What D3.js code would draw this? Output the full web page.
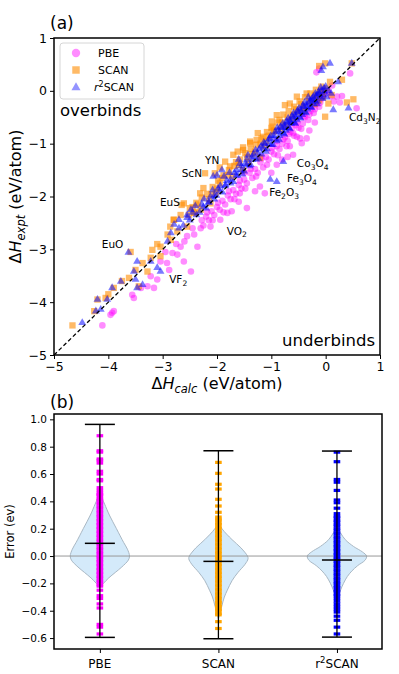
<!DOCTYPE html>
<html>
<head>
<meta charset="utf-8">
<script src="https://cdn.jsdelivr.net/npm/d3@7"></script>
<style>
body { margin: 0; background: #fff; }
svg { display: block; }
text { font-family: "DejaVu Sans", sans-serif; fill: #000; }
</style>
</head>
<body>
<svg id="fig" width="399" height="674"></svg>
<script>

// ---- panel (a): formation enthalpy, [calc, expt] in eV/atom ----
var pbePts = [
	[-0.17,0.35],[-0.12,0.42],[0.45,0.33],[0.26,-0.22],[0.57,-0.33],[0.21,-0.11],[0.12,0.10],
	[-0.05,-0.10],[-0.10,-0.22],[-0.15,-0.18],[-0.20,-0.35],[-0.25,-0.30],[-0.30,-0.45],[-0.32,-0.55],
	[-0.38,-0.50],[-0.42,-0.62],[-0.47,-0.90],[-0.35,-0.90],[-0.66,-1.05],[-0.50,-0.70],[-0.55,-0.65],
	[-0.60,-0.80],[-0.65,-0.78],[-0.70,-0.95],[-0.75,-0.88],[-0.80,-1.00],[-0.85,-1.10],[-0.90,-1.05],
	[-0.95,-1.20],[-1.00,-1.15],[-1.05,-1.30],[-1.10,-1.25],[-1.15,-1.45],[-1.20,-1.35],[-1.25,-1.55],
	[-1.30,-1.48],[-1.35,-1.65],[-1.40,-1.55],[-1.45,-1.75],[-1.50,-1.68],[-1.55,-1.85],[-1.60,-1.78],
	[-1.65,-1.95],[-1.70,-1.88],[-1.75,-2.05],[-1.80,-1.98],[-1.85,-2.15],[-1.90,-2.08],[-1.95,-2.25],
	[-2.00,-2.20],[-2.05,-2.35],[-2.10,-2.28],[-2.15,-2.45],[-2.20,-2.38],[-2.25,-2.55],
	[-0.53,-0.87],[-0.44,-0.99],[-0.60,-1.21],[-1.21,-1.81],[-1.45,-2.22],[-1.58,-1.94],[-1.12,-1.94],
	[-1.73,-2.28],[-1.94,-2.44],[-1.81,-2.31],[-2.12,-2.57],[-2.30,-2.60],[-2.42,-2.72],[-2.67,-2.95],
	[-2.82,-3.07],[-2.73,-3.10],[-2.61,-3.23],[-2.48,-3.42],[-2.36,-2.95],[-3.04,-3.23],[-2.92,-3.26],
	[-2.88,-3.39],[-3.22,-3.51],[-3.10,-3.57],[-3.16,-3.73],[-3.28,-3.70],[-3.40,-3.73],[-3.53,-3.92],
	[-3.56,-3.86],[-3.90,-4.17],[-3.96,-4.24],[-3.93,-4.20],[-4.11,-4.44],[-2.55,-2.75],[-2.60,-2.85],
	[-2.45,-2.60],[-2.75,-2.90],[-2.95,-3.05],[-1.00,-1.55],[-0.80,-1.30],[-0.90,-1.40],[-0.30,-0.75],
	[-0.20,-0.60],[-0.70,-1.25],[-1.30,-1.90],[-1.60,-2.10],
	[-0.02,-0.05],[-0.08,-0.15],[-0.12,-0.30],[-0.18,-0.25],[-0.22,-0.42],[-0.28,-0.38],[-0.40,-0.48],
	[-0.45,-0.72],[-0.52,-0.60],[-0.58,-0.85],[-0.68,-0.82],[-0.72,-1.05],[-0.78,-0.92],[-0.88,-1.22],
	[-0.98,-1.08],[-1.08,-1.40],[-1.18,-1.28],[-1.28,-1.62],[-1.38,-1.48],[-1.48,-1.85],[-1.58,-1.70],
	[-1.68,-2.05],[-1.78,-1.90],[-1.88,-2.30],[-1.98,-2.12],[-2.08,-2.45],[-2.18,-2.30],[-2.28,-2.45],
	[-0.62,-0.70],[-0.90,-0.95],[-1.20,-1.25],[-1.50,-1.55],[0.05,0.00],[0.10,-0.10],[-0.05,0.00],
	[0.15,-0.20],[0.30,-0.10]
];

var scanPts = [
	[-0.01,0.52],[-0.12,0.47],[0.48,0.52],[0.30,0.21],[0.08,0.17],[0.51,-0.16],[0.39,-0.22],
	[-0.01,-0.49],[0.11,-0.08],[0.05,-0.24],
	[-0.05,0.00],[-0.10,-0.02],[-0.20,-0.08],[-0.35,-0.05],[-0.53,-0.11],[-0.66,-0.24],[-0.75,-0.27],
	[-0.90,-0.46],[-0.99,-0.58],[-1.15,-0.87],[-0.96,-0.77],[-1.27,-0.93],[-1.39,-0.99],[-1.52,-1.12],
	[-1.70,-1.21],[-1.52,-1.07],[-1.39,-0.96],[-1.76,-1.43],[-1.52,-1.50],[-1.21,-1.27],[-1.85,-1.34],
	[-2.04,-1.56],[-2.22,-1.56],[-1.91,-1.65],[-2.25,-1.84],[-2.31,-1.94],[-2.65,-2.16],[-2.50,-2.22],
	[-2.80,-2.44],[-2.86,-2.57],
	[-0.30,-0.20],[-0.40,-0.30],[-0.45,-0.25],[-0.60,-0.45],[-0.70,-0.50],[-0.80,-0.60],[-0.85,-0.55],
	[-1.05,-0.85],[-1.10,-0.95],[-1.20,-1.00],[-1.30,-1.15],[-1.45,-1.25],[-1.60,-1.40],[-1.65,-1.35],
	[-1.80,-1.60],[-1.95,-1.75],[-2.00,-1.85],[-2.10,-1.95],[-2.15,-2.05],[-2.35,-2.15],[-2.40,-2.30],
	[-2.45,-2.20],[-0.15,-0.10],[-0.25,-0.15],[-0.50,-0.40],[-0.55,-0.35],[-0.95,-0.75],[-1.35,-1.20],
	[-1.00,-0.70],[-0.20,-0.25],[-0.05,-0.12],
	[-0.08,0.08],[-0.18,0.02],[-0.28,-0.05],[-0.38,-0.12],[-0.48,-0.20],[-0.58,-0.30],[-0.68,-0.38],
	[-0.78,-0.45],[-0.88,-0.60],[-0.98,-0.68],[-1.08,-0.78],[-1.18,-0.90],[-1.28,-1.02],[-1.38,-1.10],
	[-1.48,-1.18],[-1.58,-1.30],[-1.68,-1.42],[-1.78,-1.50],[-1.88,-1.60],[-1.98,-1.70],[-2.08,-1.82],
	[-2.18,-1.95],[-2.28,-2.02],[-2.38,-2.12],[-2.52,-2.35],[-0.62,-0.55],[-0.72,-0.65],[-0.82,-0.72],
	[-1.12,-1.05],[-1.42,-1.35],[-1.72,-1.62],[-2.02,-1.92],[-0.40,-0.38],[-0.12,-0.18],[0.02,0.05],
	[-1.25,-0.80],[-1.62,-1.15],[-1.95,-1.45],
	[-4.66,-4.44],[-4.26,-4.17],[-4.20,-3.95],[-4.05,-3.92],[-3.90,-3.73],[-3.62,-3.54],[-3.44,-3.70],
	[-3.50,-3.39],[-3.37,-3.26],[-3.22,-3.16],[-3.19,-3.01],[-3.04,-2.95],[-3.59,-3.05],[-2.91,-2.72],
	[-2.79,-2.44],[-2.67,-2.35],[-2.61,-2.13],[-2.42,-2.31],[-2.30,-2.25],[-2.12,-2.13],[-2.55,-2.57],
	[-2.73,-2.66],[-2.85,-2.82],[-3.04,-3.13],[-3.28,-3.42],[-4.00,-3.85],[-3.75,-3.60],[-3.10,-2.90]
];

var r2scanPts = [
	[0.08,0.52],[0.48,0.52],[0.23,0.17],[0.42,-0.33],[0.14,-0.36],[-0.05,0.45],[-0.08,0.38],
	[-0.02,-0.02],[-0.05,-0.08],[-0.08,0.00],[-0.10,-0.12],[-0.12,-0.05],[-0.15,-0.20],[-0.18,-0.10],
	[-0.20,-0.18],[-0.22,-0.25],[-0.25,-0.15],[-0.28,-0.30],[-0.30,-0.22],[-0.33,-0.35],[-0.35,-0.25],
	[-0.38,-0.40],[-0.40,-0.30],[-0.43,-0.45],[-0.45,-0.35],[-0.48,-0.50],[-0.50,-0.40],[-0.53,-0.55],
	[-0.55,-0.45],[-0.58,-0.60],[-0.60,-0.50],[-0.63,-0.62],[-0.65,-0.55],[-0.68,-0.70],[-0.70,-0.60],
	[-0.73,-0.75],[-0.75,-0.65],[-0.78,-0.80],[-0.80,-0.70],[-0.85,-0.85],[-0.88,-0.75],[-0.90,-0.95],
	[-0.95,-0.85],[-1.00,-1.02],[-1.03,-0.90],[-1.08,-1.10],[-1.12,-1.00],[-1.18,-1.20],[-1.22,-1.10],
	[-1.28,-1.30],[-1.33,-1.20],[-1.40,-1.42],[-1.45,-1.30],[-1.50,-1.52],[-1.55,-1.42],[-1.62,-1.60],
	[-1.68,-1.55],[-1.75,-1.75],[-1.82,-1.70],[-1.90,-1.92],[-1.98,-1.85],[-2.05,-2.05],[-2.12,-2.00],
	[-2.20,-2.22],[-2.28,-2.15],[-2.38,-2.35],[-2.45,-2.30],
	[-0.03,0.05],[-0.06,-0.15],[-0.09,0.06],[-0.13,-0.02],[-0.16,-0.25],[-0.19,-0.05],[-0.23,-0.12],
	[-0.26,-0.32],[-0.29,-0.18],[-0.32,-0.12],[-0.36,-0.42],[-0.39,-0.22],[-0.42,-0.28],[-0.46,-0.52],
	[-0.49,-0.33],[-0.52,-0.38],[-0.56,-0.62],[-0.59,-0.42],[-0.62,-0.48],[-0.66,-0.72],[-0.69,-0.52],
	[-0.72,-0.58],[-0.76,-0.82],[-0.79,-0.62],[-0.83,-0.68],[-0.86,-0.92],[-0.89,-0.70],[-0.93,-0.78],
	[-0.97,-1.02],[-1.01,-0.85],[-1.05,-0.92],[-1.10,-1.15],[-1.14,-0.98],[-1.19,-1.05],[-1.24,-1.28],
	[-1.29,-1.12],[-1.35,-1.25],[-1.38,-1.40],[-1.43,-1.22],[-1.48,-1.38],[-1.53,-1.58],[-1.58,-1.38],
	[-1.64,-1.50],[-1.70,-1.72],[-1.77,-1.55],[-1.84,-1.78],[-1.87,-1.62],[-1.94,-1.80],[-2.01,-1.98],
	[-2.08,-1.88],[-2.15,-2.10],[-2.24,-2.05],[-2.32,-2.30],[-2.40,-2.18],[-2.50,-2.45],[-2.55,-2.40],
	[-2.62,-2.55],[-2.70,-2.60],[-0.15,-0.08],[-0.25,-0.20],[-0.35,-0.30],[-0.45,-0.40],[-0.55,-0.50],
	[-0.65,-0.60],[-0.75,-0.70],[-0.85,-0.78],[-0.95,-0.90],[-1.05,-1.00],[-1.15,-1.08],[-1.25,-1.18],
	[-1.35,-1.30],[-1.45,-1.40],[-1.55,-1.50],[-1.65,-1.60],[-1.75,-1.68],[-1.85,-1.80],[-1.95,-1.90],
	[-2.05,-1.98],[-2.15,-2.12],[-2.25,-2.20],[0.00,0.08],[0.05,0.00],[0.10,-0.05],[0.02,-0.12],
	[-1.02,-1.68],[-0.90,-1.72],[-0.78,-1.34],[-2.00,-1.60],[-1.60,-1.30],[-1.91,-1.50],[-2.07,-1.62],
	[-4.48,-4.39],[-4.23,-4.17],[-4.20,-3.95],[-3.93,-3.73],[-3.77,-3.61],[-3.50,-3.57],[-3.53,-3.42],
	[-3.47,-3.23],[-3.22,-3.23],[-3.10,-3.35],[-3.04,-3.42],[-2.91,-2.85],[-2.85,-2.69],[-2.79,-2.53],
	[-2.70,-2.44],[-2.55,-2.35],[-2.48,-2.25],[-3.63,-3.06],[-3.47,-3.73],[-3.37,-3.67],[-4.02,-3.95],
	[-4.14,-4.14]
];

var enthalpyTicks = [-5, -4, -3, -2, -1, 0, 1];

// labelled compounds: [name ("_" = subscript), calc, expt]
var compoundLabels = [
	["Cd_3N_2", 0.43, -0.57],
	["Co_3O_4", -0.53, -1.44],
	["Fe_3O_4", -0.71, -1.72],
	["Fe_2O_3", -1.04, -1.99],
	["YN", -2.22, -1.38],
	["ScN", -2.65, -1.63],
	["EuS", -3.05, -2.18],
	["EuO", -4.12, -2.97],
	["VO_2", -1.82, -2.72],
	["VF_2", -2.88, -3.63]
];

// ---- panel (b): error distributions (eV) ----
var methods = ["PBE", "SCAN", "r2SCAN"];
var errMax = [0.963, 0.770, 0.768];
var errMin = [-0.595, -0.605, -0.593];
var errMean = [0.093, -0.039, -0.029];

var pbeErr = [0.88,0.77,0.76,0.71,0.70,0.68,0.62,0.60,0.56,0.55,0.50,0.48,0.46,0.45,0.44,0.42,0.41,
	0.39,0.38,0.36,0.35,0.33,0.32,0.30,0.29,0.27,0.26,0.24,0.23,0.21,0.20,0.18,0.17,0.15,0.14,0.12,
	0.11,0.09,0.08,0.06,0.05,0.03,0.02,0.00,-0.01,-0.03,-0.04,-0.06,-0.07,-0.09,-0.10,-0.12,-0.13,
	-0.15,-0.16,-0.18,-0.19,-0.21,-0.22,-0.25,-0.29,-0.31,-0.35,-0.38,-0.50,-0.52,-0.57];
var scanErr = [0.685,0.605,0.525,0.49,0.415,0.366,0.32,0.285,0.27,0.26,0.24,0.23,0.21,0.20,0.18,
	0.17,0.15,0.14,0.12,0.11,0.09,0.08,0.06,0.05,0.03,0.02,0.00,-0.01,-0.03,-0.04,-0.06,-0.07,-0.09,
	-0.10,-0.12,-0.13,-0.15,-0.16,-0.18,-0.19,-0.21,-0.22,-0.24,-0.25,-0.27,-0.28,-0.30,-0.31,-0.33,
	-0.34,-0.36,-0.37,-0.39,-0.40,-0.42,-0.43,-0.48,-0.53];
var r2scanErr = [0.76,0.69,0.56,0.54,0.48,0.41,0.39,0.35,0.31,0.29,0.28,0.26,0.25,0.23,0.22,0.20,
	0.19,0.17,0.16,0.14,0.13,0.11,0.10,0.08,0.07,0.05,0.04,0.02,0.01,-0.01,-0.02,-0.04,-0.05,-0.07,
	-0.08,-0.10,-0.11,-0.13,-0.14,-0.16,-0.17,-0.19,-0.20,-0.22,-0.23,-0.25,-0.26,-0.28,-0.29,-0.31,
	-0.33,-0.35,-0.37,-0.39,-0.41,-0.44,-0.47,-0.52,-0.57];

// violin outline: [error, relative half width]
var pbeDensity = [[0.46,0],[0.42,0.08],[0.38,0.16],[0.30,0.32],[0.20,0.56],[0.10,0.80],[0.05,0.93],
	[0.00,1.00],[-0.03,0.96],[-0.08,0.74],[-0.12,0.52],[-0.16,0.30],[-0.20,0.12],[-0.23,0]];
var scanDensity = [[0.25,0],[0.20,0.12],[0.12,0.46],[0.06,0.76],[0.00,0.98],[-0.02,1.00],[-0.06,0.90],
	[-0.12,0.66],[-0.18,0.46],[-0.25,0.30],[-0.30,0.20],[-0.37,0.11],[-0.42,0.05],[-0.46,0]];
var r2scanDensity = [[0.22,0],[0.17,0.12],[0.12,0.28],[0.07,0.56],[0.03,0.86],[0.00,1.00],[-0.03,0.95],
	[-0.07,0.70],[-0.11,0.50],[-0.15,0.35],[-0.20,0.22],[-0.25,0.12],[-0.30,0.04],[-0.33,0]];

var errTicks = [-0.6, -0.4, -0.2, 0.0, 0.2, 0.4, 0.6, 0.8, 1.0];


var svg = d3.select("#fig");

var colPBE = "#ff00ff";
var colSCAN = "#ff8c00";
var colR2 = "#0000ff";


function subText(sel, str, size)
{
	// "_" marks the next character as a subscript
	var parts = [];
	for (var i = 0; i < str.length; i++)
	{
		if (str[i] == "_")
		{
			parts.push({t: str[i+1], sub: true});
			i++;
		}
		else
			parts.push({t: str[i], sub: false});
	}
	var wasSub = false;
	parts.forEach(function(p)
	{
		var ts = sel.append("tspan").text(p.t);
		if (p.sub && !wasSub)
			ts.attr("dy", size * 0.28).attr("font-size", size * 0.72);
		else if (p.sub)
			ts.attr("font-size", size * 0.72);
		else if (wasSub)
			ts.attr("dy", -size * 0.28);
		wasSub = p.sub;
	})
}


// ================= panel (a) =================
var ax = {left: 54, right: 380, top: 38, bottom: 355};

var x = d3.scaleLinear().domain([-5, 1]).range([ax.left, ax.right]);
var y = d3.scaleLinear().domain([-5, 1]).range([ax.bottom, ax.top]);

var gA = svg.append("g");

gA.append("g").selectAll("circle")
	.data(pbePts)
	.enter().append("circle")
	.attr("cx", function(d) { return x(d[0]) })
	.attr("cy", function(d) { return y(d[1]) })
	.attr("r", 3.3)
	.attr("fill", colPBE)
	.attr("fill-opacity", 0.45);

var sq = d3.symbol(d3.symbolSquare, 40);
gA.append("g").selectAll("path")
	.data(scanPts)
	.enter().append("path")
	.attr("d", sq)
	.attr("transform", function(d) { return "translate(" + x(d[0]) + "," + y(d[1]) + ")" })
	.attr("fill", colSCAN)
	.attr("fill-opacity", 0.6);

var tri = d3.symbol(d3.symbolTriangle, 27);
gA.append("g").selectAll("path")
	.data(r2scanPts)
	.enter().append("path")
	.attr("d", tri)
	.attr("transform", function(d) { return "translate(" + x(d[0]) + "," + y(d[1]) + ")" })
	.attr("fill", colR2)
	.attr("fill-opacity", 0.52);

gA.append("line")
	.attr("x1", x(-5)).attr("y1", y(-5))
	.attr("x2", x(1)).attr("y2", y(1))
	.attr("stroke", "#000")
	.attr("stroke-width", 1.3)
	.attr("stroke-dasharray", "4,2.6");

compoundLabels.forEach(function(c)
{
	var t = gA.append("text")
		.attr("x", x(c[1]))
		.attr("y", y(c[2]))
		.attr("font-size", 10.5);
	subText(t, c[0], 10.5);
})

// frame + axes
gA.append("rect")
	.attr("x", ax.left).attr("y", ax.top)
	.attr("width", ax.right - ax.left).attr("height", ax.bottom - ax.top)
	.attr("fill", "none").attr("stroke", "#000").attr("stroke-width", 1.5);

var xAxisA = gA.append("g")
	.attr("transform", "translate(0," + ax.bottom + ")")
	.call(d3.axisBottom(x).tickValues(enthalpyTicks).tickFormat(d3.format("d")).tickSize(4).tickPadding(3));
var yAxisA = gA.append("g")
	.attr("transform", "translate(" + ax.left + ",0)")
	.call(d3.axisLeft(y).tickValues(enthalpyTicks).tickFormat(d3.format("d")).tickSize(4).tickPadding(3));
[xAxisA, yAxisA].forEach(function(a)
{
	a.select(".domain").remove();
	a.selectAll("text").attr("font-size", 12.5).attr("font-family", "DejaVu Sans");
	a.selectAll("line").attr("stroke", "#000");
})

gA.append("text").attr("x", 50).attr("y", 29).attr("font-size", 17).text("(a)");
gA.append("text").attr("x", 60).attr("y", 116).attr("font-size", 16.5).text("overbinds");
gA.append("text").attr("x", 375).attr("y", 346).attr("font-size", 16.5)
	.attr("text-anchor", "end").text("underbinds");

// axis titles
var xt = gA.append("text").attr("x", 217).attr("y", 389).attr("font-size", 16).attr("text-anchor", "middle");
xt.append("tspan").text("Δ");
xt.append("tspan").attr("font-style", "italic").text("H");
xt.append("tspan").attr("font-style", "italic").attr("font-size", 11.5).attr("dy", 4).text("calc");
xt.append("tspan").attr("dy", -4).text(" (eV/atom)");

var yt = gA.append("text")
	.attr("transform", "translate(21," + ((ax.top + ax.bottom) / 2) + ") rotate(-90)")
	.attr("font-size", 16).attr("text-anchor", "middle");
yt.append("tspan").text("Δ");
yt.append("tspan").attr("font-style", "italic").text("H");
yt.append("tspan").attr("font-style", "italic").attr("font-size", 11.5).attr("dy", 4).text("expt");
yt.append("tspan").attr("dy", -4).text(" (eV/atom)");

// legend
var lg = gA.append("g");
lg.append("rect")
	.attr("x", 60).attr("y", 43).attr("width", 84).attr("height", 56).attr("rx", 3)
	.attr("fill", "#fff").attr("fill-opacity", 0.8)
	.attr("stroke", "#d6d6d6").attr("stroke-width", 1);
lg.append("circle").attr("cx", 76).attr("cy", 53).attr("r", 4.2)
	.attr("fill", colPBE).attr("fill-opacity", 0.45);
lg.append("path").attr("d", d3.symbol(d3.symbolSquare, 56))
	.attr("transform", "translate(76,70)").attr("fill", colSCAN).attr("fill-opacity", 0.6);
lg.append("path").attr("d", d3.symbol(d3.symbolTriangle, 36))
	.attr("transform", "translate(76,87.5)").attr("fill", colR2).attr("fill-opacity", 0.42);
lg.append("text").attr("x", 98).attr("y", 57).attr("font-size", 11).text("PBE");
lg.append("text").attr("x", 98).attr("y", 74).attr("font-size", 11).text("SCAN");
var lr = lg.append("text").attr("x", 94).attr("y", 91).attr("font-size", 11);
lr.append("tspan").attr("font-style", "italic").text("r");
lr.append("tspan").attr("font-size", 8).attr("dy", -4).text("2");
lr.append("tspan").attr("dy", 4).text("SCAN");


// ================= panel (b) =================
var bx = {left: 54, right: 382, top: 414, bottom: 649};

var xb = d3.scaleLinear().domain([0.613, 3.38]).range([bx.left, bx.right]);
var yb = d3.scaleLinear().domain([-0.68, 1.039]).range([bx.bottom, bx.top]);

var gB = svg.append("g");

var halfW = (xb(1.25) - xb(1));
var densities = [pbeDensity, scanDensity, r2scanDensity];
var errs = [pbeErr, scanErr, r2scanErr];
var cols = [colPBE, "#ffa500", colR2];

densities.forEach(function(dens, i)
{
	var cx = xb(i + 1);
	var area = d3.area()
		.y(function(d) { return yb(d[0]) })
		.x0(function(d) { return cx - d[1] * halfW })
		.x1(function(d) { return cx + d[1] * halfW })
		.curve(d3.curveCatmullRom);
	gB.append("path")
		.datum(dens)
		.attr("d", area)
		.attr("fill", "#d4eafa")
		.attr("stroke", "#a9b8c4")
		.attr("stroke-width", 1);
})

gB.append("line")
	.attr("x1", bx.left).attr("x2", bx.right)
	.attr("y1", yb(0)).attr("y2", yb(0))
	.attr("stroke", "#999").attr("stroke-width", 1);

errs.forEach(function(list, i)
{
	var cx = xb(i + 1);
	gB.append("g").selectAll("rect")
		.data(list)
		.enter().append("rect")
		.attr("x", cx - 3.3)
		.attr("y", function(d) { return yb(d) - 1.6 })
		.attr("width", 6.6)
		.attr("height", 3.2)
		.attr("fill", cols[i]);
})

methods.forEach(function(m, i)
{
	var cx = xb(i + 1);
	var cap = 15;
	gB.append("line")
		.attr("x1", cx).attr("x2", cx)
		.attr("y1", yb(errMin[i])).attr("y2", yb(errMax[i]))
		.attr("stroke", "#000").attr("stroke-width", 1.3);
	[errMin[i], errMax[i], errMean[i]].forEach(function(v)
	{
		gB.append("line")
			.attr("x1", cx - cap).attr("x2", cx + cap)
			.attr("y1", yb(v)).attr("y2", yb(v))
			.attr("stroke", "#000").attr("stroke-width", 1.5);
	})
})

gB.append("rect")
	.attr("x", bx.left).attr("y", bx.top)
	.attr("width", bx.right - bx.left).attr("height", bx.bottom - bx.top)
	.attr("fill", "none").attr("stroke", "#000").attr("stroke-width", 1.5);

var xAxisB = gB.append("g")
	.attr("transform", "translate(0," + bx.bottom + ")")
	.call(d3.axisBottom(xb).tickValues([1, 2, 3]).tickFormat(function() { return "" }).tickSize(4));
var yAxisB = gB.append("g")
	.attr("transform", "translate(" + bx.left + ",0)")
	.call(d3.axisLeft(yb).tickValues(errTicks).tickFormat(d3.format(".1f")).tickSize(4).tickPadding(3));
[xAxisB, yAxisB].forEach(function(a)
{
	a.select(".domain").remove();
	a.selectAll("text").attr("font-size", 10.5).attr("font-family", "DejaVu Sans");
	a.selectAll("line").attr("stroke", "#000");
})

methods.forEach(function(m, i)
{
	var t = gB.append("text")
		.attr("x", xb(i + 1)).attr("y", 668)
		.attr("font-size", 12).attr("text-anchor", "middle");
	if (m == "r2SCAN")
	{
		t.append("tspan").text("r");
		t.append("tspan").attr("font-size", 8.5).attr("dy", -5).text("2");
		t.append("tspan").attr("dy", 5).text("SCAN");
	}
	else
		t.text(m);
})

gB.append("text").attr("x", 50).attr("y", 408).attr("font-size", 17).text("(b)");
gB.append("text")
	.attr("transform", "translate(14," + ((bx.top + bx.bottom) / 2) + ") rotate(-90)")
	.attr("font-size", 11.5).attr("text-anchor", "middle").text("Error (ev)");

</script>
</body>
</html>
